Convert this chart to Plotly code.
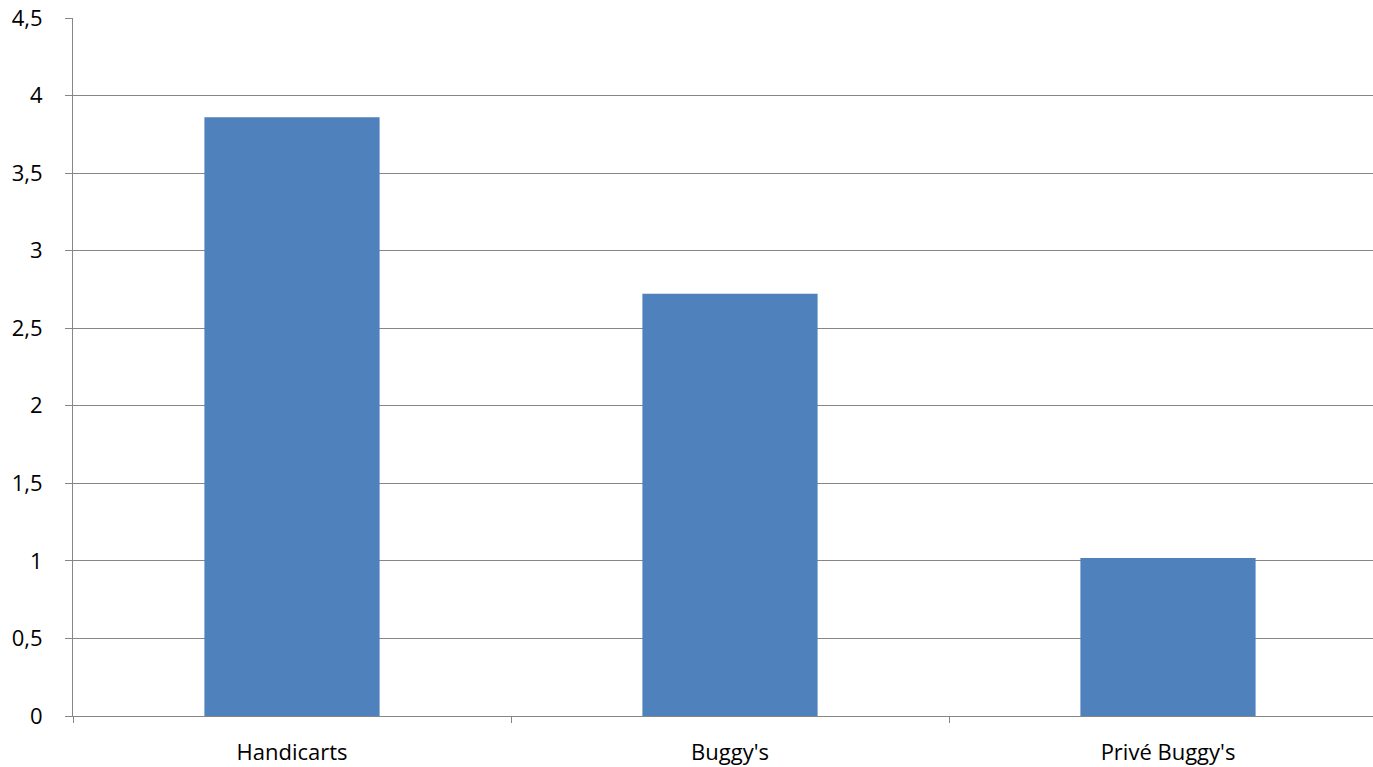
import plotly.graph_objects as go

categories = ["Handicarts", "Buggy's", "Privé Buggy's"]
values = [3.86, 2.723, 1.019]
y_ticks = [0, 0.5, 1, 1.5, 2, 2.5, 3, 3.5, 4, 4.5]

W, H = 1373, 767
L, R, T, B = 73, 0, 18, 51
cat_px = 438.0
x_end = -0.5 + (W - L - R) / cat_px

fig = go.Figure(go.Bar(
    x=categories, y=values, marker_color="#4F81BD", marker_line_width=0, width=0.4,
))

fig.update_layout(
    width=W, height=H,
    margin=dict(l=L, r=R, t=T, b=B),
    plot_bgcolor="white", paper_bgcolor="white",
    separators=",.",
    font=dict(family="Open Sans, Noto Sans, sans-serif", size=22, color="black"),
    showlegend=False,
    bargap=0.6,
)
fig.update_xaxes(
    type="category", range=[-0.5, x_end],
    showline=True, linecolor="#868686", linewidth=1,
    ticks="outside", tickson="boundaries", ticklen=6, tickcolor="#868686",
    showgrid=False, ticklabelstandoff=17,
)
fig.update_yaxes(
    range=[0, 4.5], tickvals=y_ticks,
    showline=True, linecolor="#868686", linewidth=1,
    ticks="outside", ticklen=7, tickcolor="#868686",
    showgrid=True, gridcolor="#868686", gridwidth=1,
    zeroline=False, ticklabelstandoff=18,
)
fig.write_html("out.html", config={"displayModeBar": False})

# remove the default 8px body margin so the figure fills the window exactly
with open("out.html", encoding="utf-8") as f:
    html = f.read()
html = html.replace("<body>", '<body style="margin:0;overflow:hidden">', 1)
with open("out.html", "w", encoding="utf-8") as f:
    f.write(html)
